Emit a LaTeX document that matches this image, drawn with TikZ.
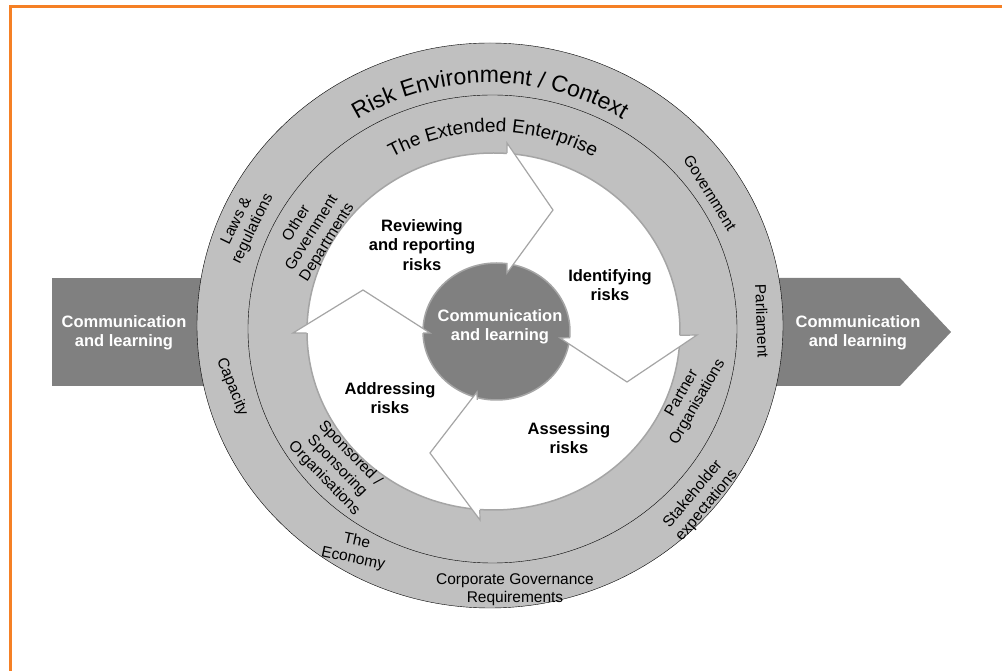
\documentclass[tikz,border=0pt]{standalone}
\usepackage{fontspec}
\setmainfont{Liberation Sans}
\usetikzlibrary{decorations.text,calc}
\definecolor{frameorange}{RGB}{245,128,37}
\definecolor{bandgrey}{RGB}{192,192,192}
\definecolor{darkgrey}{RGB}{128,128,128}
\definecolor{edgegrey}{RGB}{165,165,165}

\begin{document}
\begin{tikzpicture}[x=1pt,y=1pt,
	bandlabel/.style={align=center,font=\fontsize{15.5}{18}\selectfont,inner sep=0pt},
	steplabel/.style={align=center,font=\bfseries\fontsize{16.5}{19.5}\selectfont,inner sep=0pt},
	commlabel/.style={steplabel,text=white}]
	\useasboundingbox (-490,-334) rectangle (512,337);
	\draw[frameorange,line width=3pt] (-479.5,-340) -- (-479.5,330.5) -- (520,330.5);

	% banners either side
	\fill[darkgrey] (-438,59) rectangle (-200,-49);
	\fill[darkgrey] (200,59) -- (410,59) -- (461,5) -- (410,-49) -- (200,-49) -- cycle;
	\node[commlabel] (commleft) at (-366,4) {Communication\\and learning};
	\node[commlabel] (commright) at (368,4) {Communication\\and learning};

	% rings
	\draw[fill=bandgrey] (0,11.5) ellipse [x radius=293,y radius=282.5];
	\draw (2.5,8) ellipse [x radius=244.5,y radius=234];
	\draw[edgegrey,line width=1.5pt,fill=white] (3.5,5.5) ellipse [x radius=186.5,y radius=178.5];
	\draw[edgegrey,line width=1.5pt,fill=darkgrey] (6.5,5.5) ellipse [x radius=73.5,y radius=68.5];

	% arrow heads of the cycle
	\foreach \out/\tip/\in/\to/\ti [count=\k] in {{17,194}/{63,127}/{17,64}/0.077/0.077, {207,2}/{137,-45}/{70,-1}/0.124/0.073, {-10,-183}/{-60,-116}/{-13,-55}/0.078/0.062, {-197,4}/{-127,47}/{-60,4}/0.1/0.05}{
		\coordinate (out\k) at (\out);
		\coordinate (tip\k) at (\tip);
		\coordinate (in\k) at (\in);
		\fill[white] (out\k) -- (tip\k) -- (in\k) -- cycle;
		\draw[edgegrey,line width=1.2pt] ($(out\k)!\to!(in\k)$) -- (out\k) -- (tip\k) -- (in\k) -- ($(in\k)!\ti!(out\k)$);
	}

	\path[decorate,decoration={text along path,text align=center,text={|\fontsize{23}{23}\selectfont|Risk Environment / Context}}] ($(0,11.5)+(150:251 and 242.5)$) arc[start angle=150,end angle=30,x radius=251,y radius=242.5];
	\path[decorate,decoration={text along path,text align=center,text={|\fontsize{19}{19}\selectfont|The Extended Enterprise}}] ($(3,7)+(150:206 and 198)$) arc[start angle=150,end angle=30,x radius=206,y radius=198];

	\node[bandlabel,rotate=64] (laws) at (-245,112) {Laws \&\\regulations};
	\node[bandlabel,rotate=-58] (government) at (220,144) {Government};
	\node[bandlabel,rotate=-88] (parliament) at (272,16) {Parliament};
	\node[bandlabel,rotate=50] (stakeholder) at (210,-163) {Stakeholder\\expectations};
	\node[bandlabel] (governance) at (25,-253) {Corporate Governance\\Requirements};
	\node[bandlabel,rotate=-12] (economy) at (-135,-213) {The\\Economy};
	\node[bandlabel,rotate=-68] (capacity) at (-258,-50) {Capacity};
	\node[bandlabel,rotate=58] (otherdept) at (-178,104) {Other\\Government\\Departments};
	\node[bandlabel,rotate=60] (partner) at (200,-61) {Partner\\Organisations};
	\node[bandlabel,rotate=-46] (sponsored) at (-153,-129) {Sponsored /\\Sponsoring\\Organisations};

	\node[steplabel] (reviewing) at (-68,92) {Reviewing\\and reporting\\risks};
	\node[steplabel] (identifying) at (120,52) {Identifying\\risks};
	\node[steplabel] (assessing) at (79,-101) {Assessing\\risks};
	\node[steplabel] (addressing) at (-100,-61) {Addressing\\risks};
	\node[commlabel] (commcentre) at (10,10) {Communication\\and learning};
\end{tikzpicture}
\end{document}
